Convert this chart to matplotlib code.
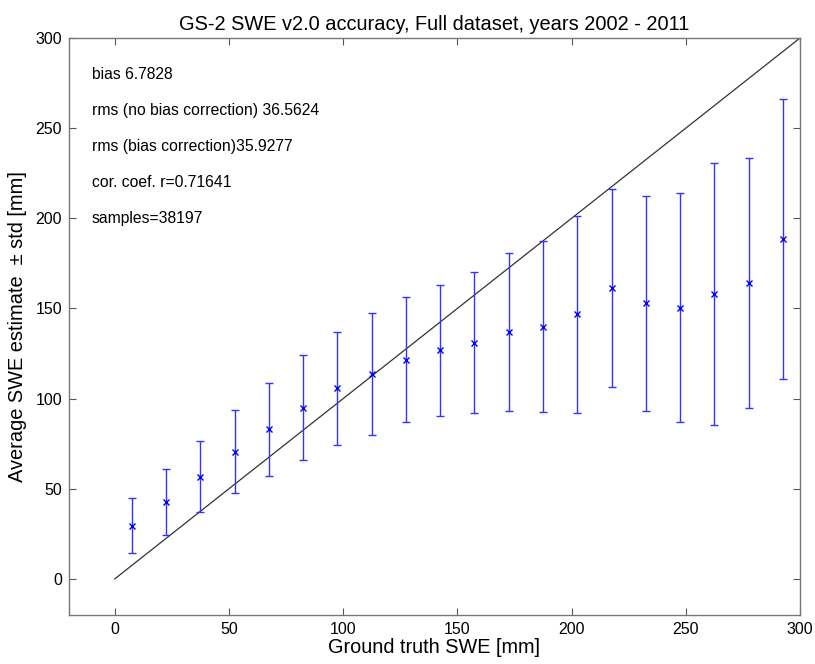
import matplotlib
matplotlib.use("Agg")
import matplotlib.pyplot as plt
import numpy as np

plt.rcParams['font.family'] = ['Liberation Sans', 'DejaVu Sans']

# Data
truth_bins = [7.5, 22.5, 37.5, 52.5, 67.5, 82.5, 97.5, 112.5, 127.5, 142.5,
              157.5, 172.5, 187.5, 202.5, 217.5, 232.5, 247.5, 262.5, 277.5, 292.5]
mean_est = [29.6, 42.6, 56.7, 70.6, 82.9, 94.9, 105.7, 113.8, 121.5, 126.7,
            131.1, 137.0, 140.0, 146.8, 161.3, 152.8, 150.4, 158.1, 164.2, 188.5]
std_est = [15.2, 18.3, 19.7, 23.2, 25.8, 29.1, 31.2, 33.8, 34.6, 36.5,
           39.0, 43.8, 47.3, 54.5, 54.7, 59.5, 63.6, 72.6, 69.3, 77.8]
one_to_one = [0, 300]
stats_text = ["bias 6.7828",
              "rms (no bias correction) 36.5624",
              "rms (bias correction)35.9277",
              "cor. coef. r=0.71641",
              "samples=38197"]
stats_y = [280, 260, 240, 220, 200]
ticks = [0, 50, 100, 150, 200, 250, 300]

fig = plt.figure(figsize=(8.15, 6.64), dpi=100)
ax = fig.add_axes([69/815, 1-615/664, (800-69)/815, (615-38)/664])

ax.plot(one_to_one, one_to_one, color='#333333', linewidth=0.9)
ax.errorbar(truth_bins, mean_est, yerr=std_est, fmt='x', color='#0000ff',
            ecolor='#3333ff', elinewidth=1.0, capsize=3, capthick=1.0,
            markersize=5, markeredgewidth=1.0)

for t, yy in zip(stats_text, stats_y):
    ax.text(-10, yy, t, fontsize=11.3, ha='left', va='center', color='black')

ax.set_xlim(-20, 300)
ax.set_ylim(-20, 300)
ax.set_xticks(ticks)
ax.set_yticks(ticks)
ax.tick_params(direction='in', top=True, right=True, labelsize=11.5, length=5,
               width=0.8, color='#555555', pad=5)
for s in ax.spines.values():
    s.set_linewidth(1.0)
    s.set_color('#777777')

ax.set_title("GS-2 SWE v2.0 accuracy, Full dataset, years 2002 - 2011", fontsize=14.4, pad=6)
ax.set_xlabel("Ground truth SWE [mm]", fontsize=14.3, labelpad=1)
ax.set_ylabel("Average SWE estimate  \u00b1 std [mm]", fontsize=14.4, labelpad=6)

fig.savefig("out.png", dpi=100)
